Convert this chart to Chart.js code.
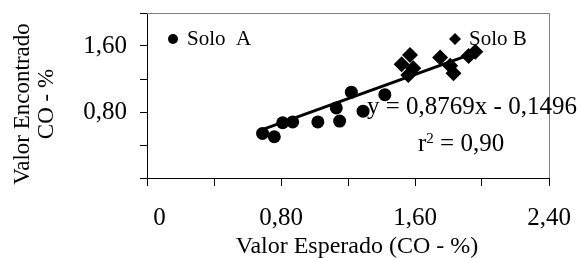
<!DOCTYPE html>
<html>
<head>
<meta charset="utf-8">
<script src="https://cdn.jsdelivr.net/npm/chart.js@4"></script>
<style>
  html, body { margin: 0; padding: 0; background: #fff; }
  #wrap { width: 578px; height: 258px; }
</style>
</head>
<body>
<div id="wrap"><canvas id="scatterChart"></canvas></div>
<script>
  // valores
  const soloAX = [0.69, 0.76, 0.81, 0.87, 1.02, 1.15, 1.13, 1.22, 1.29, 1.42];
  const soloAY = [0.54, 0.50, 0.67, 0.68, 0.68, 0.69, 0.85, 1.04, 0.81, 1.01];
  const soloBX = [1.52, 1.57, 1.59, 1.56, 1.75, 1.81, 1.83, 1.92, 1.96];
  const soloBY = [1.38, 1.49, 1.33, 1.25, 1.46, 1.36, 1.27, 1.48, 1.53];
  const trendX = [0.68, 1.99];
  const trendY = [0.58, 1.54];
  const xTickLabels = [0, 0.8, 1.6, 2.4];
  const yTickLabels = [0.8, 1.6];
  const xTitle = 'Valor Esperado (CO - %)';
  const yTitle = ['Valor Encontrado', 'CO - %'];

  const serif = 'Liberation Serif';

  function toPoints(xs, ys) {
    return xs.map((x, i) => ({ x: x, y: ys[i] }));
  }

  function fmt(v) {
    if (v === 0) return '    0';
    return v.toFixed(2).replace('.', ',');
  }

  function hasLabel(list, v) {
    return list.some(l => Math.abs(l - v) < 1e-6);
  }

  const extras = {
    id: 'extras',
    afterDatasetsDraw(chart) {
      const ctx = chart.ctx;
      const a = chart.chartArea;
      ctx.save();
      // moldura cinza
      ctx.strokeStyle = '#808080';
      ctx.lineWidth = 1;
      ctx.beginPath();
      ctx.moveTo(a.left, a.top + 0.5);
      ctx.lineTo(a.right + 0.5, a.top + 0.5);
      ctx.lineTo(a.right + 0.5, a.bottom);
      ctx.stroke();

      ctx.fillStyle = '#000';
      ctx.font = '21px "' + serif + '"';
      ctx.textBaseline = 'alphabetic';
      // legenda Solo A
      ctx.beginPath();
      ctx.arc(173, 39, 5, 0, Math.PI * 2);
      ctx.fill();
      ctx.fillText('Solo  A', 187, 45);
      // legenda Solo B
      ctx.beginPath();
      ctx.moveTo(455, 33);
      ctx.lineTo(461, 39);
      ctx.lineTo(455, 45);
      ctx.lineTo(449, 39);
      ctx.closePath();
      ctx.fill();
      ctx.fillText('Solo B', 469, 45);

      // equacao
      ctx.font = '25px "' + serif + '"';
      ctx.fillText('y = 0,8769x - 0,1496', 367, 114);
      ctx.fillText('r', 418, 151);
      let w = ctx.measureText('r').width;
      ctx.font = '15px "' + serif + '"';
      ctx.fillText('2', 418 + w, 143);
      let w2 = ctx.measureText('2').width;
      ctx.font = '25px "' + serif + '"';
      ctx.fillText(' = 0,90', 418 + w + w2, 151);

      // titulo do eixo x
      ctx.font = '24px "' + serif + '"';
      ctx.textAlign = 'center';
      ctx.fillText(xTitle, 357, 253);

      // titulo do eixo y
      ctx.font = '23px "' + serif + '"';
      ctx.textBaseline = 'middle';
      ctx.translate(23, 104);
      ctx.rotate(-Math.PI / 2);
      yTitle.forEach((t, i) => ctx.fillText(t, 0, i * 24));
      ctx.restore();
    }
  };

  const ctx = document.getElementById('scatterChart').getContext('2d');
  const chart = new Chart(ctx, {
    type: 'scatter',
    data: {
      datasets: [
        {
          label: 'Linha',
          type: 'line',
          data: toPoints(trendX, trendY),
          borderColor: '#000',
          borderWidth: 3,
          pointRadius: 0,
          fill: false,
          order: 3
        },
        {
          label: 'Solo A',
          data: toPoints(soloAX, soloAY),
          pointStyle: 'circle',
          pointRadius: 6.5,
          backgroundColor: '#000',
          borderColor: '#000',
          borderWidth: 0,
          order: 2
        },
        {
          label: 'Solo B',
          data: toPoints(soloBX, soloBY),
          pointStyle: 'rectRot',
          pointRadius: 8,
          backgroundColor: '#000',
          borderColor: '#000',
          borderWidth: 0,
          order: 1
        }
      ]
    },
    options: {
      responsive: true,
      maintainAspectRatio: false,
      animation: false,
      layout: {
        padding: { top: 13, right: 29, left: 0, bottom: 0 }
      },
      plugins: {
        legend: { display: false },
        tooltip: { enabled: false }
      },
      scales: {
        x: {
          type: 'linear',
          min: 0,
          max: 2.4,
          afterFit: function(scale) {
            scale.height = 80;
            scale.paddingLeft = 0;
            scale.paddingRight = 0;
          },
          ticks: {
            stepSize: 0.4,
            color: '#000',
            padding: 17,
            maxRotation: 0,
            autoSkip: false,
            font: { family: serif, size: 25 },
            callback: function(v) { return hasLabel(xTickLabels, v) ? fmt(v) : ''; }
          },
          grid: { drawOnChartArea: false, drawTicks: true, tickLength: 8, color: '#000' },
          border: { display: true, color: '#000', width: 1 }
        },
        y: {
          type: 'linear',
          min: 0,
          max: 2.0,
          afterFit: function(scale) {
            scale.width = 147;
            scale.paddingTop = 0;
            scale.paddingBottom = 0;
          },
          ticks: {
            stepSize: 0.4,
            color: '#000',
            padding: 13,
            autoSkip: false,
            font: { family: serif, size: 25 },
            callback: function(v) { return hasLabel(yTickLabels, v) ? fmt(v) : ''; }
          },
          grid: { drawOnChartArea: false, drawTicks: true, tickLength: 7, color: '#000' },
          border: { display: true, color: '#000', width: 1 }
        }
      }
    },
    plugins: [extras]
  });
</script>
</body>
</html>
